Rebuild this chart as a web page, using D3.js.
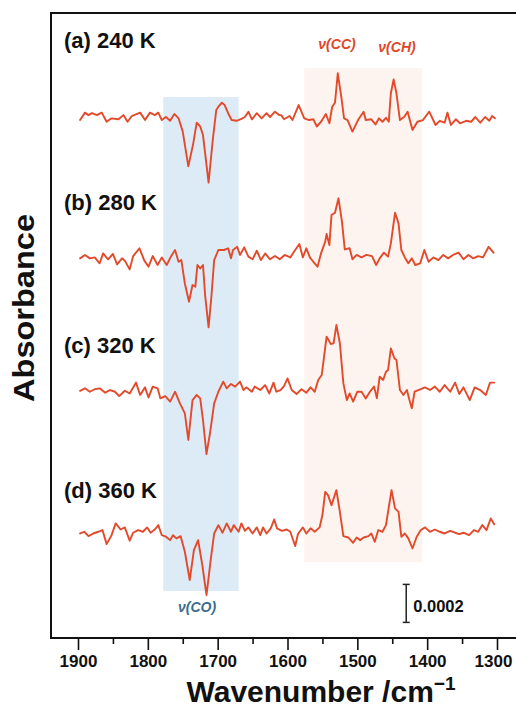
<!DOCTYPE html>
<html>
<head>
<meta charset="utf-8">
<script src="https://cdn.jsdelivr.net/npm/d3@7"></script>
<style>
  html, body { margin: 0; padding: 0; background: #ffffff; }
  svg { display: block; }
  text { font-family: "Liberation Sans", Arial, Helvetica, sans-serif; }
</style>
</head>
<body>
<svg id="chart" width="516" height="708"></svg>
<script>
// ---------- data (absorbance in units of 1e-4) ----------
const majorTicks = [1900, 1800, 1700, 1600, 1500, 1400, 1300];
const minorTicks = [1850, 1750, 1650, 1550, 1450, 1350];

const labels = ["(a) 240 K", "(b) 280 K", "(c) 320 K", "(d) 360 K"];
const offsets = [0, -7.44, -14.37, -21.83];   // vertical stacking offsets (1e-4 units)

const specA = [[1897,-0.16],[1890,0.23],[1885,0.1],[1880,0.2],[1873,0.1],[1866,0.23],[1859,-0.25],[1852,-0.07],[1842,-0.12],[1835,0.1],[1829,-0.25],[1823,0.05],[1811,0.23],[1804,-0.16],[1797,0.23],[1790,0.1],[1785,0.23],[1780,-0.16],[1774,0],[1768,-0.2],[1762,0.16],[1756,-0.07],[1750,-0.77],[1742,-2.6],[1735,-1.4],[1730,-0.3],[1725,-0.5],[1721,-0.95],[1713,-3.45],[1707,-1.2],[1702,0.37],[1699,0.54],[1694,0.75],[1690,0.63],[1685,0.2],[1680,-0.16],[1673,-0.2],[1666,-0.1],[1661,0],[1656,0.28],[1651,-0.12],[1644,0.2],[1637,-0.07],[1630,0.2],[1625,0],[1618,0.28],[1612,0.1],[1609,0.1],[1605,-0.12],[1597,0.05],[1593,-0.16],[1584,0.63],[1576,-0.07],[1569,-0.16],[1563,-0.12],[1558,-0.5],[1552,-0.25],[1545,0.16],[1540,-0.33],[1536,0.54],[1532,0.75],[1528,2.3],[1523,1.07],[1519,-0.07],[1514,-0.16],[1507,-0.77],[1499,-0.16],[1491,0.28],[1488,-0.16],[1480,-0.12],[1474,-0.39],[1469,-0.07],[1464,-0.25],[1459,-0.04],[1455,-0.25],[1452,1.25],[1448,1.98],[1444,1.25],[1439,-0.16],[1433,0],[1428,0.28],[1421,-0.68],[1414,-0.25],[1406,-0.16],[1397,0.28],[1388,-0.42],[1382,-0.2],[1375,-0.3],[1371,0.23],[1366,-0.42],[1359,-0.12],[1353,-0.33],[1344,-0.2],[1337,-0.25],[1331,0],[1324,-0.3],[1317,0],[1311,-0.2],[1307,0.05],[1303,-0.07]];

const specB = [[1897,0],[1890,0.18],[1883,0],[1876,0.05],[1869,-0.26],[1864,0.26],[1857,-0.05],[1850,0.23],[1844,-0.32],[1837,0],[1833,-0.12],[1826,-0.58],[1821,0.12],[1812,0.53],[1805,-0.12],[1799,-0.44],[1793,0.12],[1786,-0.35],[1780,0.05],[1773,-0.35],[1767,0.09],[1761,0.44],[1756,-0.18],[1752,-0.09],[1747,-1.32],[1741,-2.28],[1736,-1.4],[1732,-1.49],[1729,-0.35],[1725,-0.53],[1721,-0.35],[1718,-1.93],[1713,-3.63],[1709,-2.02],[1705,-0.09],[1699,0.44],[1691,0.44],[1685,0.53],[1681,0],[1678,0.44],[1672,0.61],[1668,0.18],[1662,0.58],[1656,0.09],[1650,-0.05],[1644,0.4],[1638,-0.09],[1632,0.26],[1625,-0.05],[1618,0.12],[1611,-0.05],[1604,0.18],[1596,0.05],[1589,0.44],[1583,0.75],[1578,0.05],[1573,0.53],[1568,0.05],[1563,-0.18],[1557,-0.44],[1552,0.26],[1546,0.88],[1544,1.28],[1540,0.7],[1537,2.28],[1532,2.4],[1527,3.16],[1522,1.93],[1518,0.47],[1511,0.53],[1507,-0.05],[1501,0.18],[1494,0.05],[1487,0.18],[1479,0.12],[1473,-0.35],[1468,0],[1462,0.3],[1456,0.09],[1452,0.79],[1446,2.4],[1441,1.84],[1437,0.44],[1432,0.05],[1427,-0.26],[1422,0],[1417,-0.35],[1410,-0.26],[1404,0.44],[1398,-0.18],[1391,0.05],[1384,-0.09],[1377,0.18],[1370,0],[1363,0.18],[1355,0.3],[1348,-0.05],[1341,0.18],[1334,0],[1327,0.12],[1320,0.05],[1312,0.61],[1305,0.3]];

const specC = [[1897,-0.04],[1890,0.09],[1883,-0.09],[1876,0.04],[1869,0.09],[1861,-0.14],[1854,0],[1847,-0.09],[1841,-0.32],[1833,-0.04],[1826,-0.18],[1817,0.39],[1811,-0.26],[1804,0.14],[1799,-0.39],[1793,0.18],[1786,0.09],[1782,-0.44],[1775,-0.32],[1768,-0.61],[1761,-0.09],[1754,-0.7],[1747,-1.23],[1742,-2.63],[1736,-0.53],[1730,-0.26],[1725,-0.44],[1721,-1.58],[1716,-3.37],[1711,-2.28],[1705,-0.7],[1699,-0.09],[1692,0.44],[1687,0.09],[1681,0.32],[1675,0.18],[1668,0.44],[1663,0],[1659,0.14],[1651,-0.09],[1647,0.18],[1639,0],[1632,0.26],[1626,-0.18],[1620,0.39],[1616,-0.09],[1610,0],[1605,0.21],[1600,0.61],[1594,0],[1587,-0.21],[1580,0.04],[1573,-0.14],[1567,0.14],[1561,-0.09],[1556,0.53],[1551,0.79],[1544,2.81],[1538,2.42],[1534,2.46],[1530,3.42],[1525,2.46],[1520,0.35],[1515,-0.53],[1511,-0.18],[1506,-0.61],[1500,-0.09],[1494,-0.09],[1488,-0.44],[1482,-0.09],[1476,0.18],[1472,-0.44],[1468,0.7],[1463,0.53],[1459,0.96],[1456,1.05],[1452,2.19],[1447,1.67],[1444,1.58],[1439,0],[1434,-0.26],[1429,0],[1426,-0.44],[1422,-0.96],[1418,-0.09],[1410,0.04],[1403,0.14],[1396,0],[1389,0.18],[1382,-0.09],[1375,0.26],[1367,-0.09],[1360,0.39],[1354,-0.21],[1348,0.14],[1339,-0.53],[1332,0.14],[1324,0],[1316,-0.26],[1310,0.39],[1304,0.39]];

const specD = [[1897,-0.09],[1891,0],[1885,-0.23],[1878,-0.09],[1871,0],[1865,0.09],[1859,-0.65],[1852,-0.18],[1846,0.44],[1839,0.12],[1833,0.23],[1826,-0.47],[1821,-0.05],[1814,0.09],[1807,0],[1801,0.23],[1796,-0.05],[1790,0.12],[1785,0.35],[1780,-0.18],[1774,-0.26],[1768,-0.44],[1764,-0.18],[1759,-0.35],[1753,-0.23],[1747,-1.05],[1740,-2.54],[1734,-0.96],[1728,-0.44],[1722,-1.75],[1716,-3.33],[1710,-1.49],[1705,-0.09],[1699,0.35],[1693,-0.05],[1687,0.44],[1681,0],[1677,0.35],[1670,0],[1666,0.44],[1661,0.05],[1656,0.23],[1650,-0.09],[1644,0.23],[1639,-0.18],[1635,0.23],[1630,-0.09],[1624,0.18],[1619,0.65],[1615,0.18],[1608,0.05],[1601,0.12],[1596,0],[1589,-0.75],[1585,-0.12],[1578,0.23],[1573,-0.09],[1567,0.18],[1561,0],[1554,0.23],[1550,0.88],[1546,2.1],[1542,1.93],[1537,1.4],[1530,2.19],[1525,1.05],[1520,-0.23],[1513,-0.3],[1506,-0.58],[1501,-0.3],[1496,-0.44],[1491,-0.3],[1484,-0.23],[1480,-0.09],[1475,-0.53],[1470,0.09],[1464,0],[1459,0.35],[1456,1.05],[1451,2.19],[1446,1.23],[1441,1.05],[1437,-0.26],[1432,-0.09],[1427,-0.35],[1421,-0.88],[1415,-0.26],[1409,0.09],[1403,0.23],[1396,0],[1389,0.12],[1382,0],[1375,-0.09],[1367,0.05],[1360,-0.05],[1354,-0.12],[1348,-0.05],[1340,-0.18],[1333,0.09],[1327,0],[1321,0.35],[1315,0.09],[1309,0.7],[1304,0.4]];

const spectra = [specA, specB, specC, specD];

// shaded bands: [wn start, wn end, value top, value bottom]
const bandCO = [1778, 1670, 1.05, -24.95];
const bandCC = [1576, 1407, 2.58, -23.42];
const scaleBar = [1430, -26.6, -24.6];   // x wn, from, to (1e-4 units)

// ---------- layout ----------
const svg = d3.select("#chart");
const frameLeft = 51, frameTop = 13, frameBottom = 638, frameRight = 520;

const x = d3.scaleLinear().domain([1900, 1300]).range([78, 497]);
const y = d3.scaleLinear().domain([0, -21.83]).range([117, 531.77]);

const lineColor = "#e34a2b";

// bands
svg.append("rect")
  .attr("x", x(bandCO[0])).attr("width", x(bandCO[1]) - x(bandCO[0]))
  .attr("y", y(bandCO[2])).attr("height", y(bandCO[3]) - y(bandCO[2]))
  .attr("fill", "#ddebf7");
svg.append("rect")
  .attr("x", x(bandCC[0])).attr("width", x(bandCC[1]) - x(bandCC[0]))
  .attr("y", y(bandCC[2])).attr("height", y(bandCC[3]) - y(bandCC[2]))
  .attr("fill", "#fdf4ef");

// spectra
const line = d3.line().x(d => x(d[0]));
spectra.forEach((s, i) => {
  svg.append("path")
    .datum(s)
    .attr("d", line.y(d => y(d[1] + offsets[i])))
    .attr("fill", "none")
    .attr("stroke", lineColor)
    .attr("stroke-width", 1.9)
    .attr("stroke-linejoin", "round")
    .attr("stroke-linecap", "round");
});

// panel labels
const labelY = [48, 210, 352.5, 498];
labels.forEach((t, i) => {
  svg.append("text")
    .attr("x", 64).attr("y", labelY[i])
    .attr("font-size", 22).attr("font-weight", "bold")
    .attr("fill", "#111")
    .text(t);
});

// mode labels
svg.append("text").attr("x", 337).attr("y", 49).attr("text-anchor", "middle")
  .attr("font-size", 14).attr("font-weight", "bold").attr("font-style", "italic")
  .attr("fill", "#e0472a").text("ν(CC)");
svg.append("text").attr("x", 397).attr("y", 52).attr("text-anchor", "middle")
  .attr("font-size", 14).attr("font-weight", "bold").attr("font-style", "italic")
  .attr("fill", "#e0472a").text("ν(CH)");
svg.append("text").attr("x", 197).attr("y", 612).attr("text-anchor", "middle")
  .attr("font-size", 14).attr("font-weight", "bold").attr("font-style", "italic")
  .attr("fill", "#3b6d8e").text("ν(CO)");

// scale bar
const sbx = x(scaleBar[0]);
svg.append("line").attr("x1", sbx).attr("x2", sbx)
  .attr("y1", y(scaleBar[1])).attr("y2", y(scaleBar[2]))
  .attr("stroke", "#222").attr("stroke-width", 1.5);
[scaleBar[1], scaleBar[2]].forEach(v => {
  svg.append("line").attr("x1", sbx - 3.5).attr("x2", sbx + 3.5)
    .attr("y1", y(v)).attr("y2", y(v))
    .attr("stroke", "#222").attr("stroke-width", 1.5);
});
svg.append("text").attr("x", sbx + 7).attr("y", 612)
  .attr("font-size", 16.5).attr("font-weight", "bold").attr("fill", "#111")
  .text("0.0002");

// frame (left + top)
svg.append("path")
  .attr("d", `M${frameRight},${frameTop}H${frameLeft}V${frameBottom}`)
  .attr("fill", "none").attr("stroke", "#111").attr("stroke-width", 2);

// x axis
const axisG = svg.append("g").attr("transform", `translate(0,${frameBottom})`);
axisG.append("line").attr("x1", frameLeft - 1).attr("x2", frameRight)
  .attr("stroke", "#111").attr("stroke-width", 2);
axisG.call(d3.axisBottom(x).tickValues(majorTicks).tickSize(12).tickPadding(5).tickFormat(d3.format("d")))
  .call(g => g.select(".domain").remove())
  .call(g => g.selectAll(".tick line").attr("stroke", "#111").attr("stroke-width", 1.6))
  .call(g => g.selectAll(".tick text").attr("font-size", 17).attr("font-weight", "bold")
        .attr("fill", "#111").attr("font-family", '"Liberation Sans", Arial, sans-serif'))
  .call(g => g.selectAll(".tick text").filter(d => d === 1300).attr("dx", -4));
const minorG = svg.append("g").attr("transform", `translate(0,${frameBottom})`);
minorG.call(d3.axisBottom(x).tickValues(minorTicks).tickSize(6).tickFormat(""))
  .call(g => g.select(".domain").remove())
  .call(g => g.selectAll(".tick line").attr("stroke", "#111").attr("stroke-width", 1.6));

// axis titles
const xt = svg.append("text").attr("x", 321).attr("y", 702).attr("text-anchor", "middle")
  .attr("font-size", 30).attr("font-weight", "bold").attr("fill", "#111");
xt.append("tspan").text("Wavenumber /cm");
xt.append("tspan").attr("font-size", 19).attr("dy", -12).text("−1");

svg.append("text")
  .attr("transform", "translate(34,308) rotate(-90)")
  .attr("text-anchor", "middle")
  .attr("font-size", 29).attr("font-weight", "bold").attr("fill", "#111")
  .attr("textLength", 188).attr("lengthAdjust", "spacingAndGlyphs")
  .text("Absorbance");
</script>
</body>
</html>
